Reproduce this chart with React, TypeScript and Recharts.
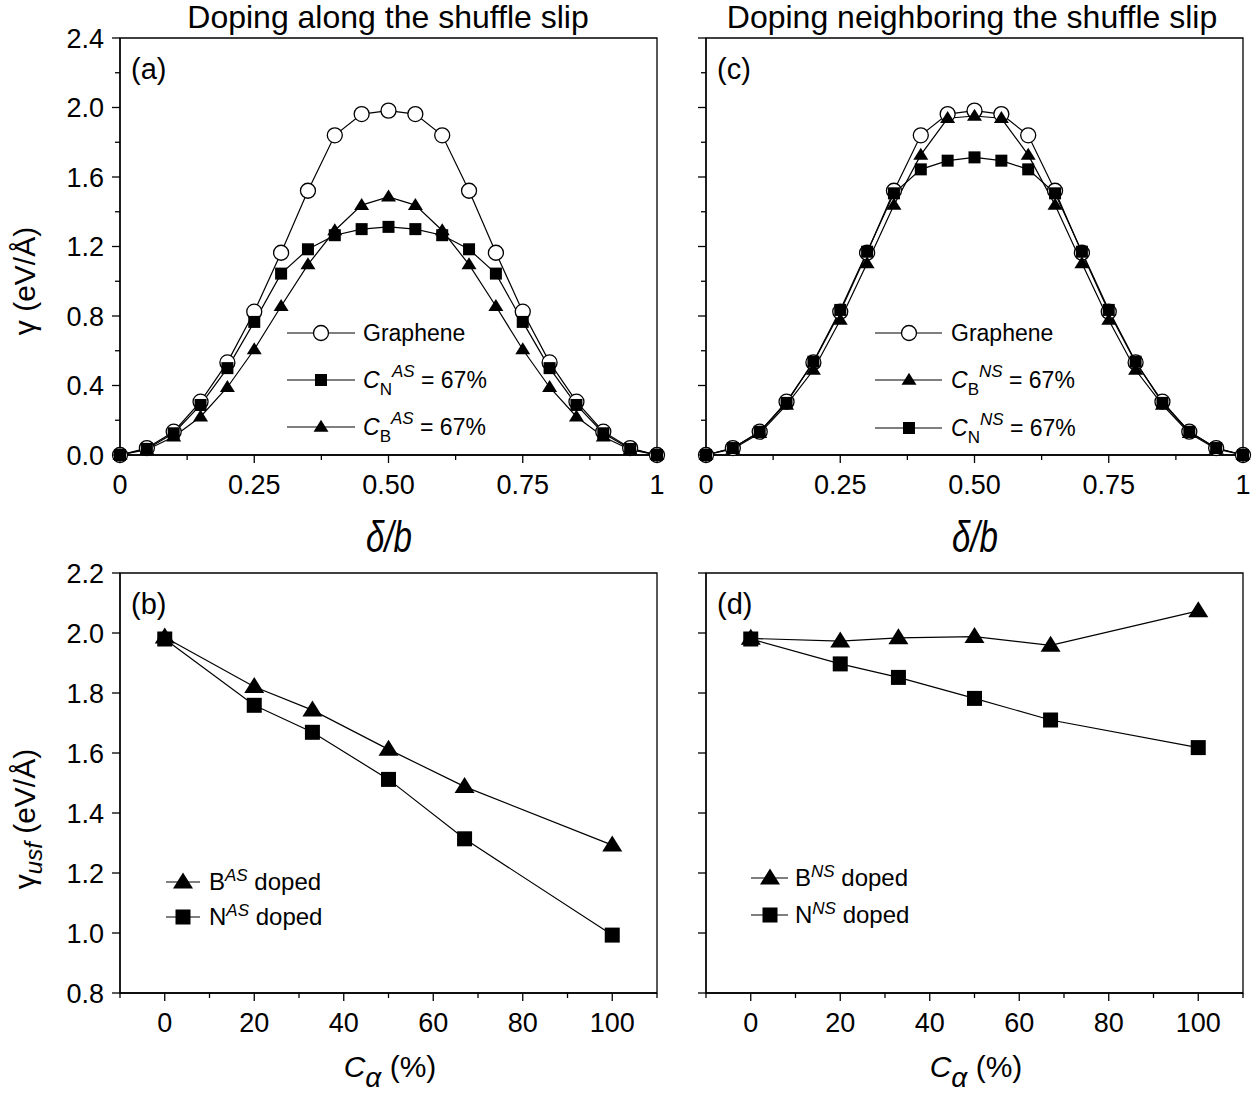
import React from 'react';
import { LineChart, Line, XAxis, YAxis, ReferenceArea } from 'recharts';

// slip displacement delta/b, 21 points
const shift = [0, 0.05, 0.1, 0.15, 0.2, 0.25, 0.3, 0.35, 0.4, 0.45, 0.5, 0.55, 0.6, 0.65, 0.7, 0.75, 0.8, 0.85, 0.9, 0.95, 1];
const graphene = [0, 0.04, 0.134, 0.307, 0.533, 0.825, 1.164, 1.521, 1.84, 1.962, 1.982, 1.962, 1.84, 1.521, 1.164, 0.825, 0.533, 0.307, 0.134, 0.04, 0];
const nAlong = [0, 0.035, 0.125, 0.288, 0.5, 0.766, 1.044, 1.184, 1.265, 1.3, 1.313, 1.3, 1.265, 1.184, 1.044, 0.766, 0.5, 0.288, 0.125, 0.035, 0];
const bAlong = [0, 0.03, 0.105, 0.22, 0.39, 0.607, 0.856, 1.096, 1.292, 1.438, 1.486, 1.438, 1.292, 1.096, 0.856, 0.607, 0.39, 0.22, 0.105, 0.03, 0];
const bNeighbor = [0, 0.035, 0.125, 0.288, 0.489, 0.777, 1.103, 1.439, 1.727, 1.938, 1.951, 1.938, 1.727, 1.439, 1.103, 0.777, 0.489, 0.288, 0.125, 0.035, 0];
const nNeighbor = [0, 0.04, 0.134, 0.3, 0.537, 0.835, 1.17, 1.506, 1.644, 1.694, 1.713, 1.694, 1.644, 1.506, 1.17, 0.835, 0.537, 0.3, 0.134, 0.04, 0];

// dopant concentration (%) vs unstable stacking fault energy
const conc = [0, 20, 33, 50, 67, 100];
const usfBAlong = [1.986, 1.821, 1.743, 1.612, 1.488, 1.293];
const usfNAlong = [1.98, 1.759, 1.669, 1.512, 1.314, 0.993];
const usfBNeighbor = [1.982, 1.973, 1.984, 1.988, 1.959, 2.074];
const usfNNeighbor = [1.98, 1.897, 1.852, 1.782, 1.71, 1.618];

// ticks
const shiftTicks = [0, 0.125, 0.25, 0.375, 0.5, 0.625, 0.75, 0.875, 1];
const shiftMajor = [0, 0.25, 0.5, 0.75, 1];
const shiftLabels = ['0', '0.25', '0.50', '0.75', '1'];
const gammaTicks = [0, 0.2, 0.4, 0.6, 0.8, 1.0, 1.2, 1.4, 1.6, 1.8, 2.0, 2.2, 2.4];
const gammaMajor = [0, 0.4, 0.8, 1.2, 1.6, 2.0, 2.4];
const concTicks = [-10, 0, 10, 20, 30, 40, 50, 60, 70, 80, 90, 100, 110];
const concMajor = [0, 20, 40, 60, 80, 100];
const concLabels = ['0', '20', '40', '60', '80', '100'];
const usfTicks = [0.8, 1.0, 1.2, 1.4, 1.6, 1.8, 2.0, 2.2];

const INK = '#000';
const FONT = '"Liberation Sans", Arial, sans-serif';

type Shape = 'circle' | 'square' | 'triangle';

const Marker = ({ shape, cx, cy, size }: { shape: Shape; cx: number; cy: number; size: number }) => {
  if (shape === 'circle') {
    return <circle cx={cx} cy={cy} r={size / 2} fill="#fff" stroke={INK} strokeWidth={1.3} />;
  }
  if (shape === 'square') {
    return <rect x={cx - size / 2} y={cy - size / 2} width={size} height={size} fill={INK} />;
  }
  const h = size * 0.8;
  return (
    <polygon
      points={`${cx},${cy - h * 0.6} ${cx - size / 2},${cy + h * 0.4} ${cx + size / 2},${cy + h * 0.4}`}
      fill={INK}
    />
  );
};

const BottomTick = (props: any) => {
  const { x, y, payload, major, labels } = props;
  const i = major.indexOf(payload.value);
  return (
    <g>
      <line x1={x} x2={x} y1={y} y2={y + (i >= 0 ? 8 : 5)} stroke={INK} strokeWidth={1.3} />
      {i >= 0 && (
        <text x={x} y={y + 39} textAnchor="middle" fontSize={27} fill={INK}>
          {labels[i]}
        </text>
      )}
    </g>
  );
};

const LeftTick = (props: any) => {
  const { x, y, payload, major, showLabels } = props;
  const isMajor = major.includes(payload.value);
  return (
    <g>
      <line x1={x} x2={x - (isMajor ? 8 : 5)} y1={y} y2={y} stroke={INK} strokeWidth={1.3} />
      {isMajor && showLabels && (
        <text x={x - 16} y={y} dy="0.36em" textAnchor="end" fontSize={27} fill={INK}>
          {payload.value.toFixed(1)}
        </text>
      )}
    </g>
  );
};

type Series = { key: string; values: number[]; shape: Shape; size: number };

const Panel = (p: {
  left: number; top: number; width: number; height: number; right: number;
  xs: number[]; series: Series[];
  xDomain: number[]; xTicks: number[]; xMajor: number[]; xLabels: string[];
  yDomain: number[]; yTicks: number[]; yMajor: number[]; showY: boolean;
}) => {
  const rows = p.xs.map((x, i) => {
    const r: any = { x };
    p.series.forEach((s) => (r[s.key] = s.values[i]));
    return r;
  });
  return (
    <div style={{ position: 'absolute', left: p.left, top: p.top }}>
      <LineChart width={p.width} height={p.height} data={rows} margin={{ top: 38, right: p.right, bottom: 0, left: 0 }} style={{ overflow: 'visible' }}>
        <ReferenceArea x1={p.xDomain[0]} x2={p.xDomain[1]} y1={p.yDomain[0]} y2={p.yDomain[1]} fill="none" fillOpacity={0} stroke={INK} strokeWidth={1.3} />
        <XAxis
          dataKey="x" type="number" domain={p.xDomain} ticks={p.xTicks} interval={0} height={65}
          tickSize={0} tickMargin={0} tickLine={false} axisLine={{ stroke: INK, strokeWidth: 1.3 }}
          tick={<BottomTick major={p.xMajor} labels={p.xLabels} />}
        />
        <YAxis
          type="number" domain={p.yDomain} ticks={p.yTicks} interval={0} width={120}
          tickSize={0} tickMargin={0} tickLine={false} axisLine={{ stroke: INK, strokeWidth: 1.3 }}
          tick={<LeftTick major={p.yMajor} showLabels={p.showY} />}
        />
        {p.series.map((s) => (
          <Line
            key={s.key} dataKey={s.key} type="linear" stroke={INK} strokeWidth={1.2}
            isAnimationActive={false} activeDot={false}
            dot={(d: any) => <Marker key={`${s.key}-${d.index}`} shape={s.shape} cx={d.cx} cy={d.cy} size={s.size} />}
          />
        ))}
      </LineChart>
    </div>
  );
};

const LegendRow = ({ x1, x2, cx, y, shape, size, tx, fontSize, children }: any) => (
  <g>
    <line x1={x1} x2={x2} y1={y} y2={y} stroke={INK} strokeWidth={1.2} />
    <Marker shape={shape} cx={cx} cy={y} size={size} />
    <text x={tx} y={y + 8} fontSize={fontSize} fill={INK}>{children}</text>
  </g>
);

const Conc = ({ el, site }: { el: string; site: string }) => (
  <>
    <tspan fontStyle="italic">C</tspan>
    <tspan fontSize={17} dy={7}>{el}</tspan>
    <tspan fontSize={17} fontStyle="italic" dy={-18}>{site}</tspan>
    <tspan dy={11}> = 67%</tspan>
  </>
);

const Doped = ({ el, site }: { el: string; site: string }) => (
  <>
    <tspan>{el}</tspan>
    <tspan fontSize={17} fontStyle="italic" dy={-9}>{site}</tspan>
    <tspan dy={9}> doped</tspan>
  </>
);

export default function App() {
  return (
    <div style={{ position: 'absolute', left: 0, top: 0, width: 1258, height: 1095, background: '#fff', fontFamily: FONT }}>
      <Panel
        left={0} top={0} width={680} height={520} right={23}
        xs={shift}
        series={[
          { key: 'g', values: graphene, shape: 'circle', size: 15 },
          { key: 'n', values: nAlong, shape: 'square', size: 12 },
          { key: 'b', values: bAlong, shape: 'triangle', size: 15 },
        ]}
        xDomain={[0, 1]} xTicks={shiftTicks} xMajor={shiftMajor} xLabels={shiftLabels}
        yDomain={[0, 2.4]} yTicks={gammaTicks} yMajor={gammaMajor} showY
      />
      <Panel
        left={586} top={0} width={672} height={520} right={15}
        xs={shift}
        series={[
          { key: 'g', values: graphene, shape: 'circle', size: 15 },
          { key: 'b', values: bNeighbor, shape: 'triangle', size: 15 },
          { key: 'n', values: nNeighbor, shape: 'square', size: 12 },
        ]}
        xDomain={[0, 1]} xTicks={shiftTicks} xMajor={shiftMajor} xLabels={shiftLabels}
        yDomain={[0, 2.4]} yTicks={gammaTicks} yMajor={gammaMajor} showY={false}
      />
      <Panel
        left={0} top={535} width={680} height={523} right={23}
        xs={conc}
        series={[
          { key: 'b', values: usfBAlong, shape: 'triangle', size: 20 },
          { key: 'n', values: usfNAlong, shape: 'square', size: 15 },
        ]}
        xDomain={[-10, 110]} xTicks={concTicks} xMajor={concMajor} xLabels={concLabels}
        yDomain={[0.8, 2.2]} yTicks={usfTicks} yMajor={usfTicks} showY
      />
      <Panel
        left={586} top={535} width={672} height={523} right={15}
        xs={conc}
        series={[
          { key: 'b', values: usfBNeighbor, shape: 'triangle', size: 20 },
          { key: 'n', values: usfNNeighbor, shape: 'square', size: 15 },
        ]}
        xDomain={[-10, 110]} xTicks={concTicks} xMajor={concMajor} xLabels={concLabels}
        yDomain={[0.8, 2.2]} yTicks={usfTicks} yMajor={usfTicks} showY={false}
      />

      <svg width={1258} height={1095} style={{ position: 'absolute', left: 0, top: 0, pointerEvents: 'none' }} fontFamily={FONT}>
        <text x={388} y={28} textAnchor="middle" fontSize={32} fill={INK}>Doping along the shuffle slip</text>
        <text x={972} y={28} textAnchor="middle" fontSize={32} fill={INK}>Doping neighboring the shuffle slip</text>

        <text x={131} y={79} fontSize={29} fill={INK}>(a)</text>
        <text x={717} y={79} fontSize={29} fill={INK}>(c)</text>
        <text x={131} y={614} fontSize={29} fill={INK}>(b)</text>
        <text x={717} y={614} fontSize={29} fill={INK}>(d)</text>

        <text x={389} y={552} textAnchor="middle" fontSize={44} fontStyle="italic" textLength={46} lengthAdjust="spacingAndGlyphs" fill={INK}>δ/b</text>
        <text x={975} y={552} textAnchor="middle" fontSize={44} fontStyle="italic" textLength={46} lengthAdjust="spacingAndGlyphs" fill={INK}>δ/b</text>

        <text x={390} y={1077} textAnchor="middle" fontSize={30} fill={INK}>
          <tspan fontStyle="italic">C</tspan>
          <tspan fontStyle="italic" fontSize={28} dy={10}>α</tspan>
          <tspan dy={-10}> (%)</tspan>
        </text>
        <text x={976} y={1077} textAnchor="middle" fontSize={30} fill={INK}>
          <tspan fontStyle="italic">C</tspan>
          <tspan fontStyle="italic" fontSize={28} dy={10}>α</tspan>
          <tspan dy={-10}> (%)</tspan>
        </text>

        <text x={35} y={281} textAnchor="middle" fontSize={30} fill={INK} transform="rotate(-90 35 281)">γ (eV/Å)</text>
        <text x={35} y={819} textAnchor="middle" fontSize={30} fill={INK} transform="rotate(-90 35 819)">
          <tspan>γ</tspan>
          <tspan fontSize={24} fontStyle="italic" dy={7}>usf</tspan>
          <tspan dy={-7}> (eV/Å)</tspan>
        </text>

        <LegendRow x1={287} x2={355} cx={321} y={333} shape="circle" size={15} tx={363} fontSize={23}>Graphene</LegendRow>
        <LegendRow x1={287} x2={355} cx={321} y={380} shape="square" size={12} tx={363} fontSize={23}><Conc el="N" site="AS" /></LegendRow>
        <LegendRow x1={287} x2={355} cx={321} y={427} shape="triangle" size={15} tx={363} fontSize={23}><Conc el="B" site="AS" /></LegendRow>

        <LegendRow x1={875} x2={942} cx={909} y={333} shape="circle" size={15} tx={951} fontSize={23}>Graphene</LegendRow>
        <LegendRow x1={875} x2={942} cx={909} y={380} shape="triangle" size={15} tx={951} fontSize={23}><Conc el="B" site="NS" /></LegendRow>
        <LegendRow x1={875} x2={942} cx={909} y={428} shape="square" size={12} tx={951} fontSize={23}><Conc el="N" site="NS" /></LegendRow>

        <LegendRow x1={166} x2={200} cx={183} y={882} shape="triangle" size={20} tx={209} fontSize={24}><Doped el="B" site="AS" /></LegendRow>
        <LegendRow x1={166} x2={200} cx={183} y={917} shape="square" size={15} tx={209} fontSize={24}><Doped el="N" site="AS" /></LegendRow>

        <LegendRow x1={751} x2={788} cx={770} y={878} shape="triangle" size={20} tx={795} fontSize={24}><Doped el="B" site="NS" /></LegendRow>
        <LegendRow x1={751} x2={788} cx={770} y={915} shape="square" size={15} tx={795} fontSize={24}><Doped el="N" site="NS" /></LegendRow>
      </svg>
    </div>
  );
}
